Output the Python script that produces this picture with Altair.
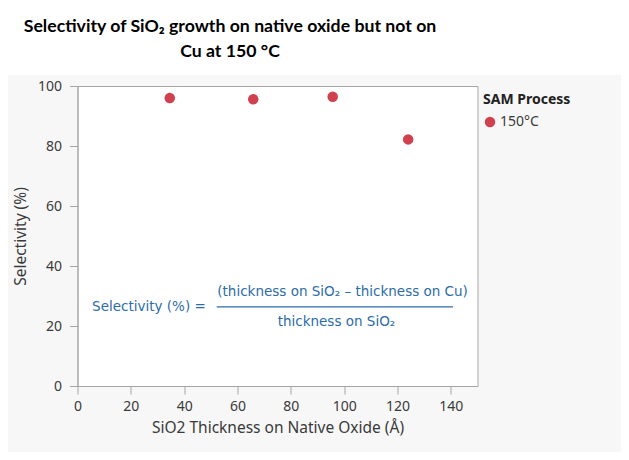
import altair as alt
import pandas as pd

# data
thickness = [34.6, 65.9, 95.7, 124.0]
selectivity = [96.0, 95.6, 96.4, 82.2]
process = ["150°C", "150°C", "150°C", "150°C"]

title_lines = ["Selectivity of SiO₂ growth on native oxide but not on", "Cu at 150 °C"]
formula_left = "Selectivity (%) ="
formula_num = "(thickness on SiO₂ – thickness on Cu)"
formula_den = "thickness on SiO₂"

df = pd.DataFrame({"x": thickness, "y": selectivity, "SAM Process": process})

W, H = 400, 300
font = "Noto Sans"
blue = "#2c6ca8"

xscale = alt.Scale(domain=[0, 150], nice=False, zero=False)
yscale = alt.Scale(domain=[0, 100], nice=False)

tick_cond = {"condition": {"test": "datum.value % 20 === 0", "value": 8}, "value": 4}

xaxis = alt.Axis(
    values=list(range(0, 151, 10)),
    labelExpr="datum.value % 20 === 0 ? datum.label : ''",
    tickSize=tick_cond,
    title="SiO2 Thickness on Native Oxide (Å)",
    grid=False,
    labelFlush=False,
    labelPadding=5,
    titlePadding=7,
)
yaxis = alt.Axis(
    values=list(range(0, 101, 10)),
    labelExpr="datum.value % 20 === 0 ? datum.label : ''",
    tickSize=tick_cond,
    title="Selectivity (%)",
    grid=False,
    labelFlush=False,
    labelPadding=8,
    titlePadding=9,
)

# white band behind the title
band = alt.Chart(pd.DataFrame({"a": [0]})).mark_rect(color="white").encode(
    x=alt.value(-90), x2=alt.value(560), y=alt.value(-90), y2=alt.value(-11)
)

title = alt.Chart(pd.DataFrame({"t": ["\n".join(title_lines)]})).mark_text(
    font="Liberation Sans Narrow, Lato",
    fontSize=17.7,
    fontWeight="bold",
    color="black",
    align="center",
    baseline="alphabetic",
    lineBreak="\n",
    lineHeight=25,
).encode(x=alt.value(152.5), y=alt.value(-54), text="t:N")

points = alt.Chart(df).mark_circle(size=110, opacity=1).encode(
    x=alt.X("x:Q", scale=xscale, axis=xaxis),
    y=alt.Y("y:Q", scale=yscale, axis=yaxis),
    color=alt.Color(
        "SAM Process:N",
        scale=alt.Scale(range=["#d1404e"]),
        legend=alt.Legend(
            title="SAM Process",
            orient="none",
            legendX=405.5,
            legendY=7,
            symbolType="circle",
            symbolSize=110,
            labelOffset=3,
            titlePadding=8,
        ),
    ),
)

t_left = alt.Chart(pd.DataFrame({"t": [formula_left]})).mark_text(
    font="DejaVu Sans", fontSize=13.5, color=blue
).encode(x=alt.datum(26.8), y=alt.datum(26.3), text="t:N")
t_num = alt.Chart(pd.DataFrame({"t": [formula_num]})).mark_text(
    font="DejaVu Sans", fontSize=13.5, color=blue
).encode(x=alt.datum(99.4), y=alt.datum(31.3), text="t:N")
t_den = alt.Chart(pd.DataFrame({"t": [formula_den]})).mark_text(
    font="DejaVu Sans", fontSize=13.5, color=blue
).encode(x=alt.datum(97.1), y=alt.datum(21.4), text="t:N")
frac = alt.Chart(pd.DataFrame({"a": [0]})).mark_rule(color=blue, strokeWidth=1.2).encode(
    x=alt.datum(52.2), x2=alt.datum(140.8), y=alt.datum(26.4)
)

chart = alt.layer(band, title, points, t_left, t_num, t_den, frac).properties(
    width=W,
    height=H,
    background="#f7f7f7",
    autosize=alt.AutoSizeParams(type="none"),
    padding={"left": 69.5, "top": 78, "right": 143, "bottom": 66},
).configure_view(
    stroke="#a6a6a6", fill="white"
).configure_axis(
    domainColor="#a6a6a6",
    tickColor="#a6a6a6",
    labelFont=font,
    labelFontSize=14,
    labelColor="#3a3a3a",
    titleFont=font,
    titleFontSize=15.5,
    titleFontWeight="normal",
    titleColor="#3a3a3a",
).configure_legend(
    titleFont=font,
    titleFontSize=14,
    titleFontWeight="bold",
    titleColor="#222222",
    labelFont=font,
    labelFontSize=14,
    labelColor="#3a3a3a",
    padding=0,
)

chart.save("out.html", embed_options={"renderer": "svg", "actions": False})
